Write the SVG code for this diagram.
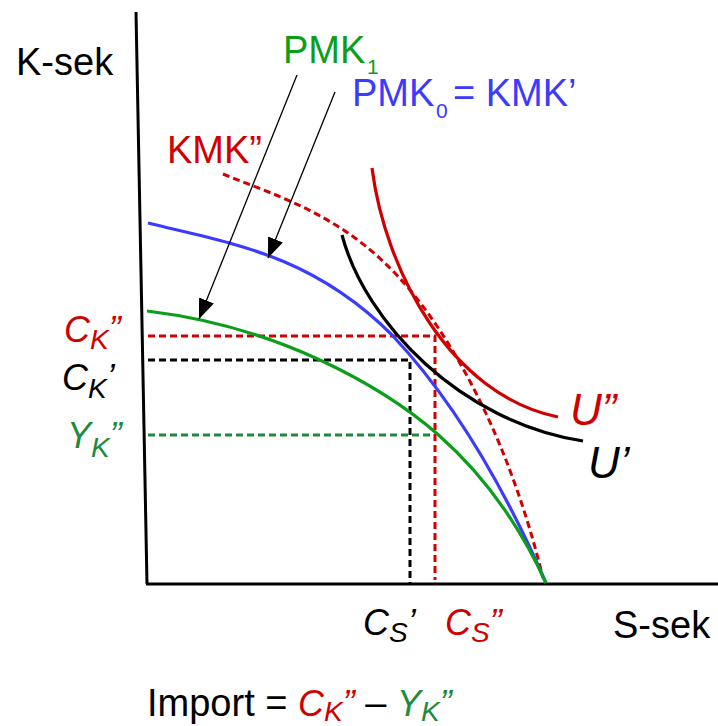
<svg xmlns="http://www.w3.org/2000/svg" width="718" height="726" viewBox="0 0 718 726">
<style>
text{font-family:"Liberation Sans",Arial,sans-serif;font-size:38px}
.it{font-style:italic;font-size:36px}
.sub{font-size:28px}
.small{font-size:21px}
.big{font-style:italic;font-size:44px}
.axis{stroke:#000;stroke-width:3;fill:none}
.curve{fill:none;stroke-width:3.2}
.dash{fill:none;stroke-width:3;stroke-dasharray:7 4}
.red{fill:#d00000}
.blue{fill:#3b3bff}
.green{fill:#0a9e1a}
.dgreen{fill:#1e8a3c}
</style>
<defs>
<marker id="ah" markerWidth="20" markerHeight="16" refX="20" refY="8" orient="auto" markerUnits="userSpaceOnUse">
<path d="M0,0 L20,8 L0,16 z" fill="#000"/>
</marker>
</defs>
<rect width="718" height="726" fill="#fff"/>
<g id="axes">
<path class="axis" d="M136,12 L147,584"/>
<path class="axis" d="M146,584 L718,584"/>
</g>
<g id="guides">
<path class="dash" stroke="#d00000" d="M148,336 L435,336 L435,580"/>
<path class="dash" stroke="#000" d="M148,360 L410,360 L410,584"/>
<path class="dash" stroke="#1e8a3c" d="M148,435 L433,435"/>
</g>
<g id="kmk2">
<path class="dash" stroke="#d00000" d="M223,174 C285,199 350,218 410,290 C460,350 512,450 543,578"/>
</g>
<g id="pmk0">
<path class="curve" stroke="#3b3bff" d="M148,223 C229,243 311,254 392,335 C441,387 495,466 546,583"/>
</g>
<g id="pmk1">
<path class="curve" stroke="#0a9e1a" d="M147,311 C205,318 262,333 320,360 C395,395 485,450 546,583"/>
</g>
<g id="u1">
<path class="curve" stroke="#000" d="M342,235 C365,322 460,422 583,441"/>
</g>
<g id="u2">
<path class="curve" stroke="#d00000" d="M372,168 C385,270 450,395 558,417"/>
</g>
<g id="connectors">
<path d="M297,75 L199,319" stroke="#000" stroke-width="1.3" fill="none" marker-end="url(#ah)"/>
<path d="M335,92 L268,258" stroke="#000" stroke-width="1.3" fill="none" marker-end="url(#ah)"/>
</g>
<g id="labels">
<text x="16" y="75">K-sek</text>
<text x="613" y="638">S-sek</text>
<text class="green" x="283" y="63">PMK</text>
<text class="green small" x="367" y="74">1</text>
<text class="blue" x="352" y="106">PMK</text>
<text class="blue small" x="436" y="118">0</text>
<text class="blue" x="453" y="106">= KMK’</text>
<text class="red" x="167" y="163">KMK”</text>
<text class="it red" x="64" y="342">C<tspan class="sub" dy="7">K</tspan><tspan dy="-7">”</tspan></text>
<text class="it" x="62" y="390">C<tspan class="sub" dy="8">K</tspan><tspan dy="-8">’</tspan></text>
<text class="it dgreen" x="67" y="448">Y<tspan class="sub" dy="9">K</tspan><tspan dy="-9">”</tspan></text>
<text class="it" x="363" y="635">C<tspan class="sub" dy="7">S</tspan><tspan dy="-7">’</tspan></text>
<text class="it red" x="445" y="635">C<tspan class="sub" dy="7">S</tspan><tspan dy="-7">”</tspan></text>
<text class="big red" x="570" y="425">U”</text>
<text class="big" x="588" y="478">U’</text>
<text x="147" y="716">Import = <tspan class="it red">C</tspan><tspan class="it sub red" dy="5">K</tspan><tspan class="it red" dy="-5">”</tspan> – <tspan class="it dgreen">Y</tspan><tspan class="it sub dgreen" dy="5">K</tspan><tspan class="it dgreen" dy="-5">”</tspan></text>
</g>
</svg>
